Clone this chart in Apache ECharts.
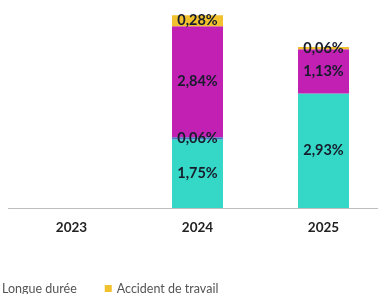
<!DOCTYPE html>
<html>
<head>
<meta charset="utf-8">
<script src="https://cdn.jsdelivr.net/npm/echarts@6/dist/echarts.min.js"></script>
<style>
  html, body { margin: 0; padding: 0; background: #fff; }
  #chart { width: 378px; height: 294px; }
</style>
</head>
<body>
<div id="chart"></div>
<script>
// données (en %)
const years = ['2023', '2024', '2025'];
const courteDuree = [null, 1.75, 2.93];
const autre = [null, 0.06, null];
const longueDuree = [null, 2.84, 1.13];
const accidentTravail = [null, 0.28, 0.06];

let chart = echarts.init(document.getElementById('chart'));

function fmt(p) {
  return p.value.toFixed(2).replace('.', ',') + '%';
}

const labelStyle = {
  show: true,
  position: 'inside',
  formatter: fmt,
  fontFamily: 'Lato',
  fontWeight: 'bold',
  fontSize: 14.5,
  color: '#161c2b'
};

function serie(name, data, color) {
  return {
    name: name,
    type: 'bar',
    stack: 'total',
    barWidth: 51,
    itemStyle: { color: color },
    label: labelStyle,
    data: data
  };
}

let option = {
  animation: false,
  grid: { left: 8.5, width: 378, top: 12.5, bottom: 86, outerBoundsMode: 'none' },
  legend: {
    data: ['Longue durée', 'Accident de travail'],
    left: -15,
    top: 277,
    itemWidth: 7,
    itemHeight: 7,
    itemGap: 28,
    icon: 'rect',
    textStyle: { fontFamily: 'Lato', fontSize: 12.5, color: '#555' }
  },
  xAxis: {
    type: 'category',
    data: years,
    axisLine: { lineStyle: { color: '#bdbdbd', width: 1 } },
    axisTick: { show: false },
    axisLabel: {
      margin: 13,
      fontFamily: 'Lato',
      fontWeight: 'bold',
      fontSize: 13.5,
      color: '#222'
    }
  },
  yAxis: {
    type: 'value',
    min: 0,
    max: 5,
    show: false
  },
  series: [
    serie('Courte durée', courteDuree, '#35d8c6'),
    serie('Autre', autre, '#3f7fc2'),
    serie('Longue durée', longueDuree, '#c21fb3'),
    serie('Accident de travail', accidentTravail, '#f2c12e')
  ]
};

chart.setOption(option);
</script>
</body>
</html>
